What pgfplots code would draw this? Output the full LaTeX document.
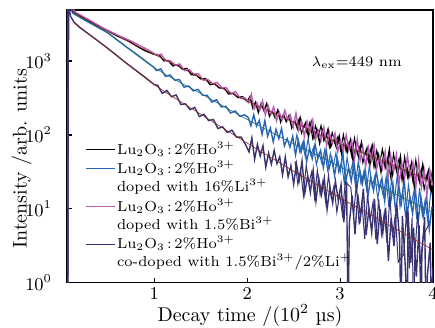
\documentclass[border=0pt]{standalone}
\usepackage{fontspec}
\usepackage{pgfplots}
\pgfplotsset{compat=1.18}
\definecolor{cB}{RGB}{40,100,180}
\definecolor{cM}{RGB}{185,95,185}
\definecolor{cN}{RGB}{55,50,115}
\definecolor{cF}{RGB}{140,40,30}
\definecolor{cT}{RGB}{30,110,120}
\begin{document}
\begin{tikzpicture}
\begin{axis}[
  scale only axis, width=183bp, height=136.4bp,
  ymode=log,
  xmin=0.06, xmax=4, ymin=1, ymax=4900,
  xtick={1,2,3,4}, ytick={1,10,100,1000},
  xminorticks=false, yminorticks=false,
  tick align=inside, xtick pos=bottom, ytick pos=left,
  major tick length=2.5pt,
  tick style={black, line width=0.6pt},
  tick label style={font=\small},
  yticklabel style={xshift=-4pt},
  xticklabel style={yshift=1pt},
  xlabel={Decay time /(10$^2$ \textmu s)},
  ylabel={Intensity /arb. units},
  xlabel style={at={(axis description cs:0.5,-0.12)}, anchor=center},
  ylabel style={at={(axis description cs:-0.124,0.455)}, anchor=center},
  axis line style={line width=0.6pt},
  legend style={draw=none, fill=none, at={(axis description cs:0.05,0.527)}, anchor=north west,
    inner sep=0pt, nodes={inner sep=1pt}, row sep=0pt,
    font=\fontsize{7.3}{9}\selectfont, cells={align=left}},
  legend cell align=left,
  legend image code/.code={\draw[#1, line width=0.5pt] (0cm,0cm) -- (0.5cm,0cm);},
]
\addplot[black, line width=0.7pt] coordinates {
(0.068,0.5) (0.075,7000) (0.10,5500) (0.12,4677) (0.2,4074) (0.3,3467) (0.4,2951) (0.5,2570) (0.6,2188) (0.7,1950) (0.8,1622) (0.9,1380) (1.0,1230)
(1.05,1216) (1.10,1014) (1.15,1016) (1.20,859) (1.25,891) (1.30,780) (1.35,793) (1.40,652) (1.45,649) (1.50,571) (1.55,579) (1.60,480) (1.65,492) (1.70,431) (1.75,433) (1.80,358) (1.85,365) (1.90,321) (1.95,330) (2.00,284)
(2.03,330) (2.06,232) (2.09,277) (2.12,202) (2.15,265) (2.18,214) (2.21,265) (2.24,179) (2.27,209) (2.30,172) (2.33,217) (2.36,150) (2.39,189) (2.42,152) (2.45,182) (2.48,125) (2.51,158) (2.54,122) (2.57,172) (2.60,122) (2.63,147) (2.66,95.9) (2.69,147) (2.72,91.0) (2.75,118) (2.78,77.4) (2.81,115) (2.84,86.5) (2.87,119) (2.90,69.7) (2.93,88.1) (2.96,67.9) (2.99,95.7) (3.02,53.3) (3.05,84.5) (3.08,59.4) (3.11,84.5) (3.14,44.9) (3.17,68.5) (3.20,49.9) (3.23,79.1) (3.26,51.8) (3.29,66.4) (3.32,39.2) (3.35,68.9) (3.38,37.8) (3.41,53.8) (3.44,31.8) (3.47,54.0) (3.50,37.9) (3.53,62.7) (3.56,27.9) (3.59,41.4) (3.62,28.4) (3.65,50.1) (3.68,23.3) (3.71,41.1) (3.74,26.9) (3.77,41.8) (3.80,19.4) (3.83,32.8) (3.86,22.4) (3.89,39.6) (3.92,23.9) (3.95,32.5) (3.98,17.2) (4.00,24.0)
};
\addlegendentry{Lu$_2$O$_3$\,:\,2\%Ho$^{3+}$}
\addplot[black, line width=0.5pt, forget plot] coordinates {
(2.525,134) (2.555,161) (2.585,105) (2.615,137) (2.645,106) (2.675,149) (2.705,89.7) (2.735,133) (2.765,94.8) (2.795,134) (2.825,83.0) (2.855,102) (2.885,68.5) (2.915,108) (2.945,78.9) (2.975,94.2) (3.005,61.8) (3.035,101) (3.065,59.3) (3.095,78.7) (3.125,51.6) (3.155,90.8) (3.185,55.5) (3.215,71.1) (3.245,41.9) (3.275,59.7) (3.305,43.5) (3.335,68.7) (3.365,36.5) (3.395,61.9) (3.425,40.6) (3.455,64.3) (3.485,35.3) (3.515,46.9) (3.545,26.5) (3.575,55.6) (3.605,34.9) (3.635,47.5) (3.665,25.1) (3.695,50.5) (3.725,26.7) (3.755,38.0) (3.785,22.9) (3.815,45.9) (3.845,25.4) (3.875,34.6) (3.905,18.3) (3.935,28.3) (3.965,19.4) (3.995,34.3)
};
\addplot[cB, line width=0.7pt, legend image post style={yshift=4.5pt}] coordinates {
(0.068,0.5) (0.075,7000) (0.10,5200) (0.12,4467) (0.2,3890) (0.3,3311) (0.4,2818) (0.5,2399) (0.6,1928) (0.7,1549) (0.8,1259) (0.9,1012) (1.0,813)
(1.02,745) (1.07,782) (1.12,617) (1.17,647) (1.22,550) (1.27,561) (1.32,443) (1.37,460) (1.42,394) (1.47,414) (1.52,345) (1.57,343) (1.62,278) (1.67,300) (1.72,239) (1.77,244) (1.82,198) (1.87,211) (1.92,179) (1.97,187)
(2.01,173) (2.04,133) (2.07,187) (2.10,132) (2.13,157) (2.16,102) (2.19,156) (2.22,95.9) (2.25,124) (2.28,80.5) (2.31,119) (2.34,89.1) (2.37,122) (2.40,71.0) (2.43,89.1) (2.46,68.4) (2.49,95.9) (2.52,53.7) (2.55,84.3) (2.58,58.7) (2.61,83.0) (2.64,43.7) (2.67,66.2) (2.70,47.8) (2.73,75.0) (2.76,48.8) (2.79,61.9) (2.82,36.2) (2.85,63.2) (2.88,34.4) (2.91,48.6) (2.94,28.4) (2.97,47.9) (3.00,32.3) (3.03,56.9) (3.06,23.4) (3.09,35.9) (3.12,23.6) (3.15,43.7) (3.18,18.8) (3.21,34.8) (3.24,21.9) (3.27,35.1) (3.30,15.1) (3.33,26.7) (3.36,17.6) (3.39,32.5) (3.42,18.6) (3.45,25.9) (3.48,12.9) (3.51,30.5) (3.54,11.4) (3.57,20.8) (3.60,8.77) (3.63,21.5) (3.66,12.1) (3.69,24.9) (3.72,8.32) (3.75,14.3) (3.78,8.57) (3.81,18.7) (3.84,6.59) (3.87,14.4) (3.90,8.13) (3.93,14.9) (3.96,5.25) (3.99,10.8)
};
\addlegendentry{Lu$_2$O$_3$\,:\,2\%Ho$^{3+}$\\doped with 16\%Li$^{3+}$}
\addplot[cB, line width=0.5pt, forget plot] coordinates {
(2.505,61.9) (2.535,101) (2.565,59.2) (2.595,77.8) (2.625,50.7) (2.655,88.3) (2.685,53.6) (2.715,68.1) (2.745,39.7) (2.775,56.2) (2.805,40.6) (2.835,63.7) (2.865,33.5) (2.895,56.4) (2.925,36.7) (2.955,57.5) (2.985,31.4) (3.015,42.8) (3.045,22.2) (3.075,49.7) (3.105,29.7) (3.135,41.5) (3.165,20.6) (3.195,43.9) (3.225,21.8) (3.255,31.8) (3.285,18.2) (3.315,38.7) (3.345,20.1) (3.375,28.1) (3.405,13.9) (3.435,22.4) (3.465,14.8) (3.495,27.2) (3.525,10.6) (3.555,25.9) (3.585,13.0) (3.615,28.4) (3.645,10.6) (3.675,17.3) (3.705,7.71) (3.735,21.3) (3.765,11.3) (3.795,17.3) (3.825,7.31) (3.855,19.0) (3.885,8.00) (3.915,13.0) (3.945,6.52) (3.975,17.0)
};
\addplot[cM, line width=0.7pt, legend image post style={yshift=4.5pt}] coordinates {
(0.068,0.5) (0.075,7000) (0.10,5600) (0.15,4571) (0.25,3890) (0.35,3311) (0.45,2786) (0.55,2427) (0.65,2113) (0.75,1862) (0.85,1603) (0.95,1380)
(1.025,1199) (1.075,1239) (1.125,995) (1.175,1005) (1.225,875) (1.275,912) (1.325,740) (1.375,769) (1.425,665) (1.475,676) (1.525,548) (1.575,566) (1.625,494) (1.675,514) (1.725,438) (1.775,435) (1.825,361) (1.875,385) (1.925,315) (1.975,320)
(2.015,273) (2.045,356) (2.075,224) (2.105,272) (2.135,216) (2.165,289) (2.195,186) (2.225,249) (2.255,193) (2.285,240) (2.315,155) (2.345,202) (2.375,161) (2.405,215) (2.435,159) (2.465,185) (2.495,128) (2.525,196) (2.555,114) (2.585,155) (2.615,95.9) (2.645,152) (2.675,110) (2.705,159) (2.735,87.1) (2.765,114) (2.795,85.5) (2.825,127) (2.855,71.9) (2.885,107) (2.915,77.6) (2.945,105) (2.975,59.4) (3.005,84.9) (3.035,60.0) (3.065,100) (3.095,63.0) (3.125,83.2) (3.155,46.5) (3.185,87.3) (3.215,45.1) (3.245,67.0) (3.275,37.4) (3.305,67.6) (3.335,45.9) (3.365,73.8) (3.395,35.2) (3.425,50.4) (3.455,35.6) (3.485,59.4) (3.515,26.5) (3.545,52.2) (3.575,31.9) (3.605,54.0) (3.635,22.0) (3.665,41.1) (3.695,26.4) (3.725,52.0) (3.755,28.7) (3.785,41.7) (3.815,19.8) (3.845,45.3) (3.875,19.4) (3.905,32.8) (3.935,15.5) (3.965,33.9) (3.995,20.7)
};
\addlegendentry{Lu$_2$O$_3$\,:\,2\%Ho$^{3+}$\\doped with 1.5\%Bi$^{3+}$}
\addplot[cN, line width=0.7pt, legend image post style={yshift=4.5pt}] coordinates {
(0.068,0.5) (0.075,7000) (0.085,4900) (0.10,3981) (0.14,3311) (0.2,2818) (0.3,2291) (0.4,1841) (0.5,1479) (0.6,1175) (0.7,933) (0.8,750) (0.9,603) (1.0,479)
(1.035,470) (1.085,365) (1.135,400) (1.185,329) (1.235,348) (1.285,258) (1.335,264) (1.385,220) (1.435,236) (1.485,177) (1.535,190) (1.585,156) (1.635,162) (1.685,122) (1.735,129) (1.785,108) (1.835,116) (1.885,93.3) (1.935,93.5) (1.985,72.8)
(2.02,58.9) (2.05,91.2) (2.08,46.9) (2.11,74.8) (2.14,51.8) (2.17,71.6) (2.20,36.6) (2.23,57.0) (2.26,40.3) (2.29,61.8) (2.32,40.9) (2.35,50.7) (2.38,28.9) (2.41,50.1) (2.44,27.1) (2.47,38.6) (2.50,21.6) (2.53,40.7) (2.56,24.4) (2.59,44.6) (2.62,16.4) (2.65,27.8) (2.68,16.7) (2.71,33.3) (2.74,12.7) (2.77,26.2) (2.80,15.6) (2.83,26.2) (2.86,9.79) (2.89,19.7) (2.92,12.0) (2.95,23.6) (2.98,13.1) (3.01,21.2) (3.04,6.58) (3.07,23.6) (3.085,0.3) (3.10,6.52) (3.13,15.2) (3.16,4.52) (3.19,15.8) (3.22,7.64) (3.25,18.8) (3.28,4.44) (3.31,9.86) (3.34,4.81) (3.37,13.5) (3.40,3.34) (3.43,9.95) (3.46,4.73) (3.49,10.35) (3.52,1.97) (3.55,7.55) (3.58,3.14) (3.61,11.5) (3.64,4.00) (3.655,0.3) (3.67,8.05) (3.70,1.84) (3.725,0.3) (3.73,9.48) (3.76,1.87) (3.79,5.56) (3.82,1.21) (3.85,6.00) (3.875,0.3) (3.88,2.42) (3.91,7.71) (3.925,0.3) (3.94,1.24) (3.97,3.48) (3.985,0.3) (4.00,1.65)
};
\addlegendentry{Lu$_2$O$_3$\,:\,2\%Ho$^{3+}$\\co-doped with 1.5\%Bi$^{3+}$/2\%Li$^{+}$}
\addplot[cN, line width=0.5pt, forget plot] coordinates {
(2.515,44.2) (2.545,21.4) (2.575,33.7) (2.605,15.2) (2.635,38.6) (2.665,22.4) (2.695,31.9) (2.725,14.1) (2.755,33.3) (2.785,15.4) (2.815,23.9) (2.845,12.3) (2.875,28.6) (2.905,14.3) (2.935,20.6) (2.965,8.99) (2.995,16.2) (3.025,8.26) (3.055,23.2) (3.115,19.6) (3.145,8.09) (3.175,21.8) (3.205,6.15) (3.235,12.2) (3.265,3.91) (3.295,15.6) (3.325,7.21) (3.355,12.4) (3.385,3.83) (3.415,13.7) (3.445,4.53) (3.475,8.83) (3.505,3.44) (3.535,14.6) (3.565,4.15) (3.595,8.55) (3.625,1.91) (3.685,2.42) (3.715,9.12) (3.745,1.57) (3.775,7.59) (3.79,0.3) (3.805,2.50) (3.835,8.93) (3.865,1.81) (3.895,4.40) (3.955,6.17)
};
\addplot[cF, line width=0.3pt, smooth, forget plot] coordinates {
(0.12,4677) (0.5,2512) (1,1230) (1.5,596) (2,288) (2.5,148) (3,75.9) (3.5,42.7) (4,22.9)
};
\addplot[cT, line width=0.3pt, smooth, forget plot] coordinates {
(0.12,4467) (0.3,3311) (0.5,2399) (1,813) (1.5,363) (2,162) (2.5,75.9) (3,37.2) (3.5,18.2) (4,8.91)
};
\addplot[cF, line width=0.3pt, smooth, forget plot] coordinates {
(0.14,3311) (0.3,2291) (0.5,1479) (1,479) (1.5,191) (2,77.6) (2.5,32.4) (3,14.1) (3.5,6.31) (4,2.79)
};
\node[font=\fontsize{7.3}{9}\selectfont] at (axis cs:3.18,940) {$\lambda_{\mathrm{ex}}$=449 nm};
\path (rel axis cs:0,0) ++(-33.5bp,-22.6bp) coordinate (BBa);
\path (rel axis cs:1,1) ++(1bp,5bp) coordinate (BBb);
\end{axis}
\pgfresetboundingbox
\useasboundingbox (BBa) rectangle (BBb);
\end{tikzpicture}
\end{document}
